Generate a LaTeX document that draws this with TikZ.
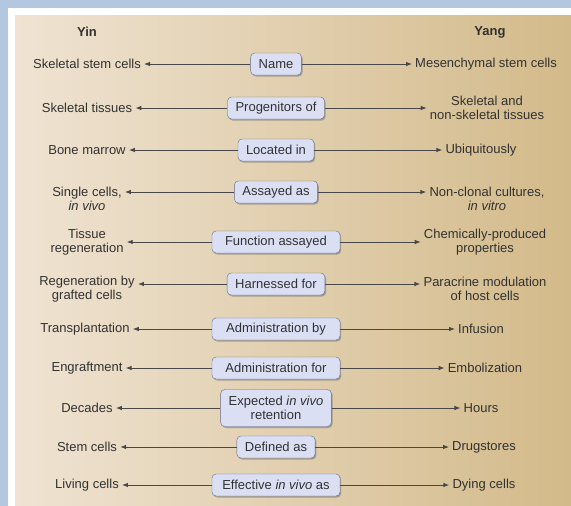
\documentclass[tikz,border=0pt]{standalone}
\usepackage{fontspec}
\setmainfont{Liberation Sans}
\usetikzlibrary{arrows.meta,shadows}
\definecolor{frameblue}{RGB}{180,199,224}
\definecolor{inkgray}{RGB}{50,50,50}
\definecolor{linegray}{RGB}{72,72,72}
\definecolor{boxfill}{RGB}{219,223,244}
\definecolor{boxline}{RGB}{100,108,140}
\definecolor{paleside}{RGB}{239,227,210}
\definecolor{palemid}{RGB}{247,239,227}
\definecolor{tanside}{RGB}{211,186,138}
\begin{document}
\begin{tikzpicture}[x=1pt,y=-1pt,
  every node/.style={text=inkgray,font=\fontsize{13}{14}\selectfont},
  relbox/.style={draw=boxline,fill=boxfill,rounded corners=4pt,inner xsep=8pt,inner ysep=0pt,
    minimum height=22pt,align=center,
    drop shadow={shadow xshift=1.2pt,shadow yshift=-1.5pt,fill=black!55,opacity=.55}},
  widebox/.style={relbox,minimum width=128pt},
  yinlbl/.style={align=center,inner sep=3pt},
  yanglbl/.style={align=center,inner sep=3pt},
  conn/.style={draw=linegray,line width=0.85pt,-{Latex[length=6pt,width=4.5pt]}}]
\useasboundingbox (0,0) rectangle (571,506);
\fill[frameblue] (0,0) rectangle (571,506);
\fill[white] (8,8) rectangle (571,506);
\shade[left color=paleside,middle color=palemid,right color=tanside] (15,15) rectangle (571,506);

\node[font=\fontsize{13}{14}\selectfont\bfseries] (yin) at (87,32) {Yin};
\node[font=\fontsize{13}{14}\selectfont\bfseries] (yang) at (490,32) {Yang};

\node[relbox] (b1) at (276,64) {Name};
\node[relbox] (b2) at (276,108) {Progenitors of};
\node[relbox] (b3) at (276,150) {Located in};
\node[relbox] (b4) at (276,192) {Assayed as};
\node[widebox] (b5) at (276,242) {Function assayed};
\node[relbox] (b6) at (276,284) {Harnessed for};
\node[widebox] (b7) at (276,329) {Administration by};
\node[widebox] (b8) at (276,368) {Administration for};
\node[relbox,minimum height=37pt] (b9) at (276,408) {Expected \textit{in vivo}\\retention};
\node[relbox] (b10) at (276,447) {Defined as};
\node[widebox] (b11) at (276,485) {Effective \textit{in vivo} as};

\node[yinlbl] (l1) at (87,64) {Skeletal stem cells};
\node[yinlbl] (l2) at (87,108) {Skeletal tissues};
\node[yinlbl] (l3) at (87,150) {Bone marrow};
\node[yinlbl] (l4) at (87,199) {Single cells,\\\textit{in vivo}};
\node[yinlbl] (l5) at (87,242) {Tissue\\regeneration};
\node[yinlbl] (l6) at (87,289) {Regeneration by\\grafted cells};
\node[yinlbl] (l7) at (85,329) {Transplantation};
\node[yinlbl] (l8) at (87,368) {Engraftment};
\node[yinlbl] (l9) at (87,408) {Decades};
\node[yinlbl] (l10) at (87,447) {Stem cells};
\node[yinlbl] (l11) at (87,485) {Living cells};

\node[yanglbl] (r1) at (486,64) {Mesenchymal stem cells};
\node[yanglbl] (r2) at (487,108) {Skeletal and\\non-skeletal tissues};
\node[yanglbl] (r3) at (481,150) {Ubiquitously};
\node[yanglbl] (r4) at (487,199) {Non-clonal cultures,\\\textit{in vitro}};
\node[yanglbl] (r5) at (485,242) {Chemically-produced\\properties};
\node[yanglbl] (r6) at (485,289) {Paracrine modulation\\of host cells};
\node[yanglbl] (r7) at (481,329) {Infusion};
\node[yanglbl] (r8) at (485,368) {Embolization};
\node[yanglbl] (r9) at (481,408) {Hours};
\node[yanglbl] (r10) at (484,447) {Drugstores};
\node[yanglbl] (r11) at (484,485) {Dying cells};

\draw[conn] (b1.west) -- (b1.west -| l1.east);
\draw[conn] (b2.west) -- (b2.west -| l2.east);
\draw[conn] (b3.west) -- (b3.west -| l3.east);
\draw[conn] (b4.west) -- (b4.west -| l4.east);
\draw[conn] (b5.west) -- (b5.west -| l5.east);
\draw[conn] (b6.west) -- (b6.west -| l6.east);
\draw[conn] (b7.west) -- (b7.west -| l7.east);
\draw[conn] (b8.west) -- (b8.west -| l8.east);
\draw[conn] (b9.west) -- (b9.west -| l9.east);
\draw[conn] (b10.west) -- (b10.west -| l10.east);
\draw[conn] (b11.west) -- (b11.west -| l11.east);

\draw[conn] (b1.east) -- (b1.east -| r1.west);
\draw[conn] (b2.east) -- (b2.east -| r2.west);
\draw[conn] (b3.east) -- (b3.east -| r3.west);
\draw[conn] (b4.east) -- (b4.east -| r4.west);
\draw[conn] (b5.east) -- (b5.east -| r5.west);
\draw[conn] (b6.east) -- (b6.east -| r6.west);
\draw[conn] (b7.east) -- (b7.east -| r7.west);
\draw[conn] (b8.east) -- (b8.east -| r8.west);
\draw[conn] (b9.east) -- (b9.east -| r9.west);
\draw[conn] (b10.east) -- (b10.east -| r10.west);
\draw[conn] (b11.east) -- (b11.east -| r11.west);
\end{tikzpicture}
\end{document}
